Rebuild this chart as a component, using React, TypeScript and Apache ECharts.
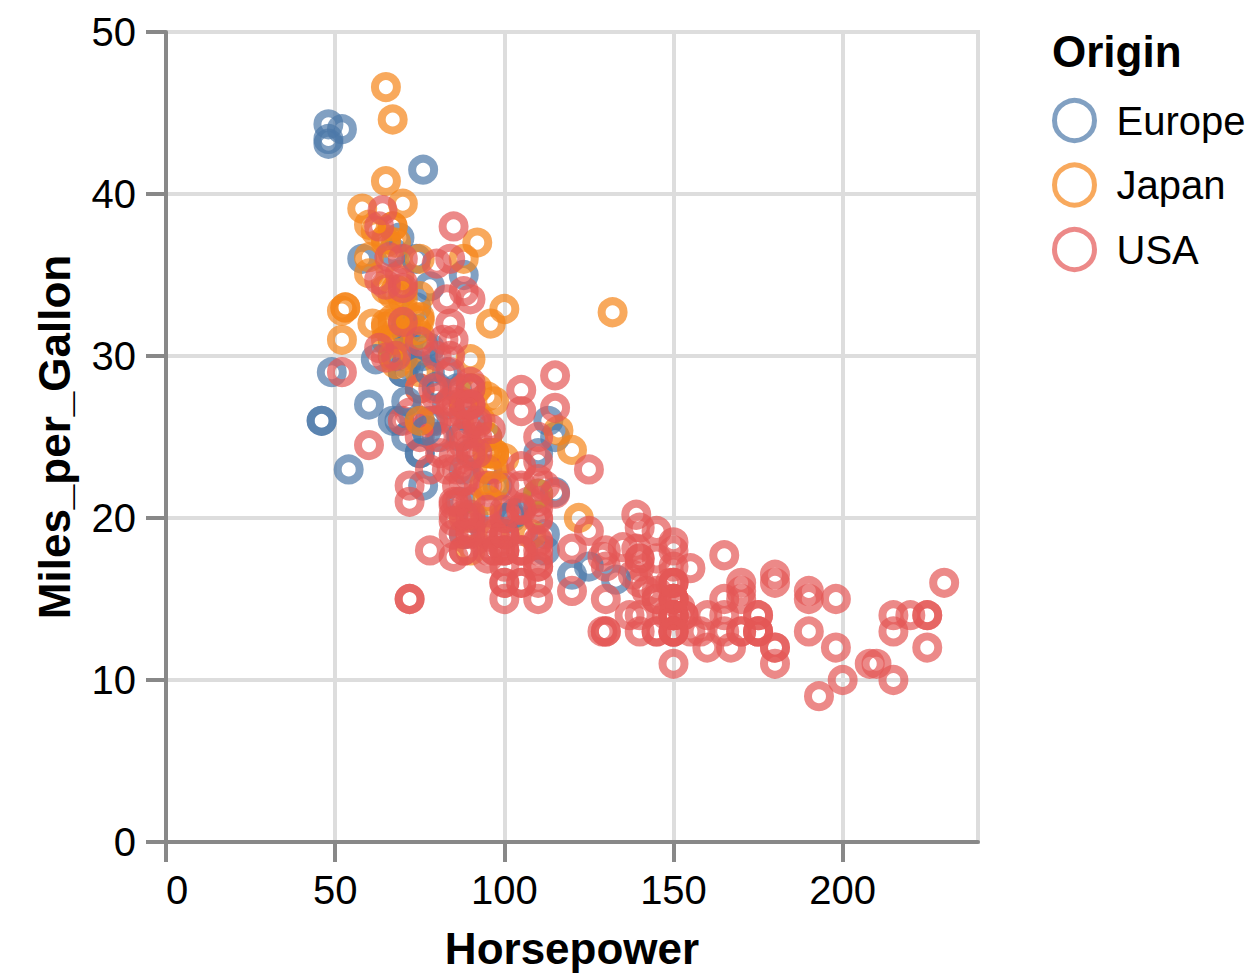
import React, { useEffect, useRef } from "react";
import * as echarts from "echarts";

// [Horsepower, Miles_per_Gallon]
const europeEarly: [number, number][] = [
  [46, 26], [87, 25], [90, 24], [95, 25], [113, 26], [90, 28], [70, 30], [76, 30], [60, 27], [54, 23],
  [112, 18], [76, 22], [87, 21], [69, 26], [46, 26], [90, 26], [49, 29], [75, 24], [91, 20], [112, 19],
  [110, 24], [83, 29], [67, 26], [78, 26], [75, 24], [75, 26], [67, 31], [71, 25], [70, 29], [95, 23],
  [88, 23], [98, 22], [115, 25], [86, 28], [81, 25], [83, 27], [70, 29], [71, 29.5], [102, 20], [88, 19],
  [120, 16.5],
];
const europeLate: [number, number][] = [
  [58, 36], [78, 29], [78, 30.5], [110, 21.5], [48, 43.1], [103, 20.3], [125, 17], [115, 21.6], [133, 16.2],
  [71, 31.5], [71, 31.9], [77, 25.4], [71, 27.2], [69, 37.3], [76, 41.5], [78, 34.3], [48, 44.3], [48, 43.4],
  [67, 36.4], [67, 30], [62, 29.8], [88, 35], [74, 33], [80, 28.1], [76, 30.7], [74, 36], [52, 44],
];
const japanEarly: [number, number][] = [
  [95, 24], [88, 27], [88, 27], [95, 25], [65, 31], [69, 35], [95, 24], [97, 19], [92, 28], [97, 23],
  [88, 27], [88, 20], [94, 22], [90, 18], [122, 20], [67, 31], [65, 32], [52, 31], [61, 32], [97, 24],
  [93, 26], [75, 29], [96, 24], [97, 24], [53, 33], [53, 33], [70, 32], [75, 28], [108, 19],
];
const japanLate: [number, number][] = [
  [68, 31.5], [70, 33.5], [75, 26], [67, 30], [97, 22], [110, 21.5], [52, 32.8], [70, 39.4], [60, 36.1],
  [95, 27.5], [97, 27.2], [95, 21.1], [97, 23.9], [68, 29.5], [65, 34.1], [65, 31.8], [60, 38.1], [65, 37.2],
  [90, 29.8], [75, 31.3], [92, 37], [75, 32.2], [65, 46.6], [65, 40.8], [67, 44.6], [67, 33.8], [132, 32.7],
  [100, 23.7], [72, 32.4], [58, 39.1], [60, 35.1], [67, 32.3], [65, 37], [62, 37.7], [68, 34.1], [75, 33.7],
  [75, 32.4], [100, 32.9], [74, 31.6], [116, 25.4], [120, 24.2], [68, 37], [68, 31], [88, 36], [75, 36],
  [70, 34], [67, 38], [67, 32], [67, 38], [96, 32],
];
const usaEarly: [number, number][] = [
  [130, 18], [165, 15], [150, 18], [150, 16], [140, 17], [198, 15], [220, 14], [215, 14], [225, 14], [190, 15],
  [170, 15], [160, 14], [150, 15], [225, 14], [95, 22], [97, 18], [85, 21], [90, 21], [215, 10], [200, 10],
  [210, 11], [193, 9],
  [90, 28], [100, 19], [105, 16], [100, 17], [88, 19], [100, 18], [165, 14], [175, 14], [153, 14], [150, 14],
  [180, 12], [170, 13], [175, 13], [110, 18], [72, 22], [100, 19], [88, 18], [86, 23], [70, 26],
  [80, 25], [90, 20], [86, 21], [165, 13], [175, 14], [150, 15], [153, 14], [150, 17], [208, 11], [155, 13],
  [160, 12], [190, 13], [150, 15], [130, 13], [140, 13], [150, 14], [86, 22], [80, 28],
  [175, 13], [150, 14], [145, 13], [137, 14], [150, 15], [198, 12], [150, 13], [158, 13], [150, 14], [215, 13],
  [225, 12], [175, 13], [105, 18], [100, 16], [100, 18], [88, 18], [95, 23], [150, 11], [167, 12], [170, 13],
  [180, 12], [100, 18], [72, 21], [85, 19], [107, 21], [145, 15], [230, 16], [150, 15], [180, 11],
  [95, 20], [100, 19], [100, 15], [80, 26], [75, 25], [100, 16], [110, 16], [105, 18], [140, 16], [150, 13],
  [150, 14], [140, 14], [150, 14], [75, 28],
  [95, 19], [105, 18], [72, 15], [72, 15], [170, 16], [145, 15], [150, 16], [148, 14], [110, 17], [105, 16],
  [110, 15], [95, 18], [110, 21], [110, 20], [129, 13], [83, 23], [100, 20], [78, 23], [97, 18], [90, 19],
  [92, 25], [79, 26], [140, 17.5], [150, 16], [120, 15.5], [152, 14.5], [100, 22], [105, 22], [81, 24], [90, 22.5],
  [52, 29], [60, 24.5], [100, 20], [78, 18], [110, 18.5], [95, 17.5], [72, 26.5], [150, 13], [180, 16.5], [145, 13],
  [130, 13], [150, 13],
];
const usaLate: [number, number][] = [
  [145, 17.5], [110, 17], [145, 15.5], [130, 15], [110, 17.5], [105, 20.5], [100, 19], [98, 18.5], [180, 16], [170, 15.5],
  [190, 15.5], [149, 16], [88, 24.5], [89, 25.5], [63, 30.5], [83, 33.5], [80, 30], [96, 25.5],
  [66, 36.1], [110, 19.9], [140, 19.4], [139, 20.2], [105, 19.2], [95, 20.5], [85, 20.2], [88, 25.1], [100, 20.5], [90, 19.4],
  [105, 20.6], [85, 20.8], [110, 18.6], [120, 18.1], [145, 19.2], [165, 17.7], [139, 18.1], [140, 17.5], [68, 30], [75, 30.9],
  [105, 23.2], [85, 23.8],
  [115, 21.5], [85, 19.8], [88, 22.3], [90, 20.2], [110, 20.6], [130, 17], [129, 17.6], [138, 16.5], [135, 18.2], [155, 16.9],
  [142, 15.5], [125, 19.2], [150, 18.5], [80, 35.7], [80, 27.4], [125, 23], [90, 23.9], [70, 34.2], [70, 34.5], [90, 28.4],
  [115, 28.8], [115, 26.8], [90, 33.5],
  [70, 32.1], [90, 28], [88, 26.4], [90, 24.3], [90, 19.1], [105, 27.9],
  [84, 27.2], [84, 26.6], [92, 25.8], [110, 23.5], [84, 30], [64, 39], [63, 34.7], [65, 34.4], [65, 29.9], [110, 22.4],
  [105, 26.6], [88, 20.2], [85, 17.6],
  [88, 28], [88, 27], [88, 34], [85, 31], [84, 29], [90, 27], [92, 24], [70, 36], [63, 38], [110, 25],
  [85, 38], [92, 26], [112, 22], [84, 36], [90, 27], [86, 27], [84, 32], [79, 28], [82, 31],
];

const origins = ["Europe", "Japan", "USA"];
const colors: Record<string, string> = { Europe: "#4c78a8", Japan: "#f58518", USA: "#e45756" };
const xTicks = [0, 50, 100, 150, 200];
const yTicks = [0, 10, 20, 30, 40, 50];

const FONT = "'Liberation Sans', Arial, Helvetica, sans-serif";

export default function App() {
  const ref = useRef<HTMLDivElement>(null);
  useEffect(() => {
    if (!ref.current) return;
    const chart = echarts.init(ref.current, null, { renderer: "svg" });
    const groups: [string, [number, number][]][] = [
      ["Europe", europeEarly], ["Japan", japanEarly], ["USA", usaEarly],
      ["Europe", europeLate], ["Japan", japanLate], ["USA", usaLate],
    ];
    const series = groups.map(([name, data]) => ({
      type: "scatter",
      name,
      data,
      symbol: "circle",
      symbolSize: 22,
      itemStyle: {
        color: "rgba(0,0,0,0)",
        borderColor: colors[name],
        borderWidth: 8,
        opacity: 0.7,
      },
      emphasis: { disabled: true },
    }));
    chart.setOption({
      animation: false,
      textStyle: { fontFamily: FONT },
      title: {
        text: "Origin",
        left: 1052,
        top: 29,
        padding: 0,
        textStyle: { fontFamily: FONT, fontSize: 44, fontWeight: "bold", color: "#000" },
      },
      legend: {
        data: origins,
        orient: "vertical",
        left: 1052,
        top: 98,
        padding: 0,
        itemWidth: 40,
        itemHeight: 40,
        itemGap: 19.5,
        icon: "circle",
        itemStyle: { color: "rgba(0,0,0,0)", borderWidth: 5, opacity: 0.7 },
        textStyle: { fontFamily: FONT, fontSize: 40, lineHeight: 40, color: "#000", padding: [0, 0, 0, 17] },
        selectedMode: false,
      },
      grid: {
        left: 166,
        top: 32,
        width: 812,
        height: 812,
        show: true,
        borderColor: "#ddd",
        borderWidth: 4,
        containLabel: false,
      },
      xAxis: {
        type: "value",
        min: 0,
        max: 240,
        interval: 50,
        name: "Horsepower",
        nameLocation: "middle",
        nameGap: 84,
        nameTextStyle: { fontFamily: FONT, fontSize: 44, fontWeight: "bold", color: "#000" },
        axisLine: { show: true, onZero: false, lineStyle: { color: "#888", width: 4 } },
        axisTick: { show: true, length: 20, lineStyle: { color: "#888", width: 4 }, customValues: xTicks },
        axisLabel: {
          customValues: xTicks,
          fontFamily: FONT,
          fontSize: 40,
          color: "#000",
          margin: 28,
          alignMinLabel: "left",
        },
        splitLine: { show: true, lineStyle: { color: "#ddd", width: 4 } },
      },
      yAxis: {
        type: "value",
        min: 0,
        max: 50,
        interval: 10,
        name: "Miles_per_Gallon",
        nameLocation: "middle",
        nameGap: 90,
        nameTextStyle: { fontFamily: FONT, fontSize: 44, fontWeight: "bold", color: "#000" },
        axisLine: { show: true, onZero: false, lineStyle: { color: "#888", width: 4 } },
        axisTick: { show: true, length: 20, lineStyle: { color: "#888", width: 4 }, customValues: yTicks },
        axisLabel: { customValues: yTicks, fontFamily: FONT, fontSize: 40, color: "#000", margin: 30 },
        splitLine: { show: true, lineStyle: { color: "#ddd", width: 4 } },
      },
      series,
    });
    return () => chart.dispose();
  }, []);
  return (
    <div
      ref={ref}
      style={{ position: "absolute", left: 0, top: 0, width: 1250, height: 975, background: "#fff" }}
    />
  );
}
